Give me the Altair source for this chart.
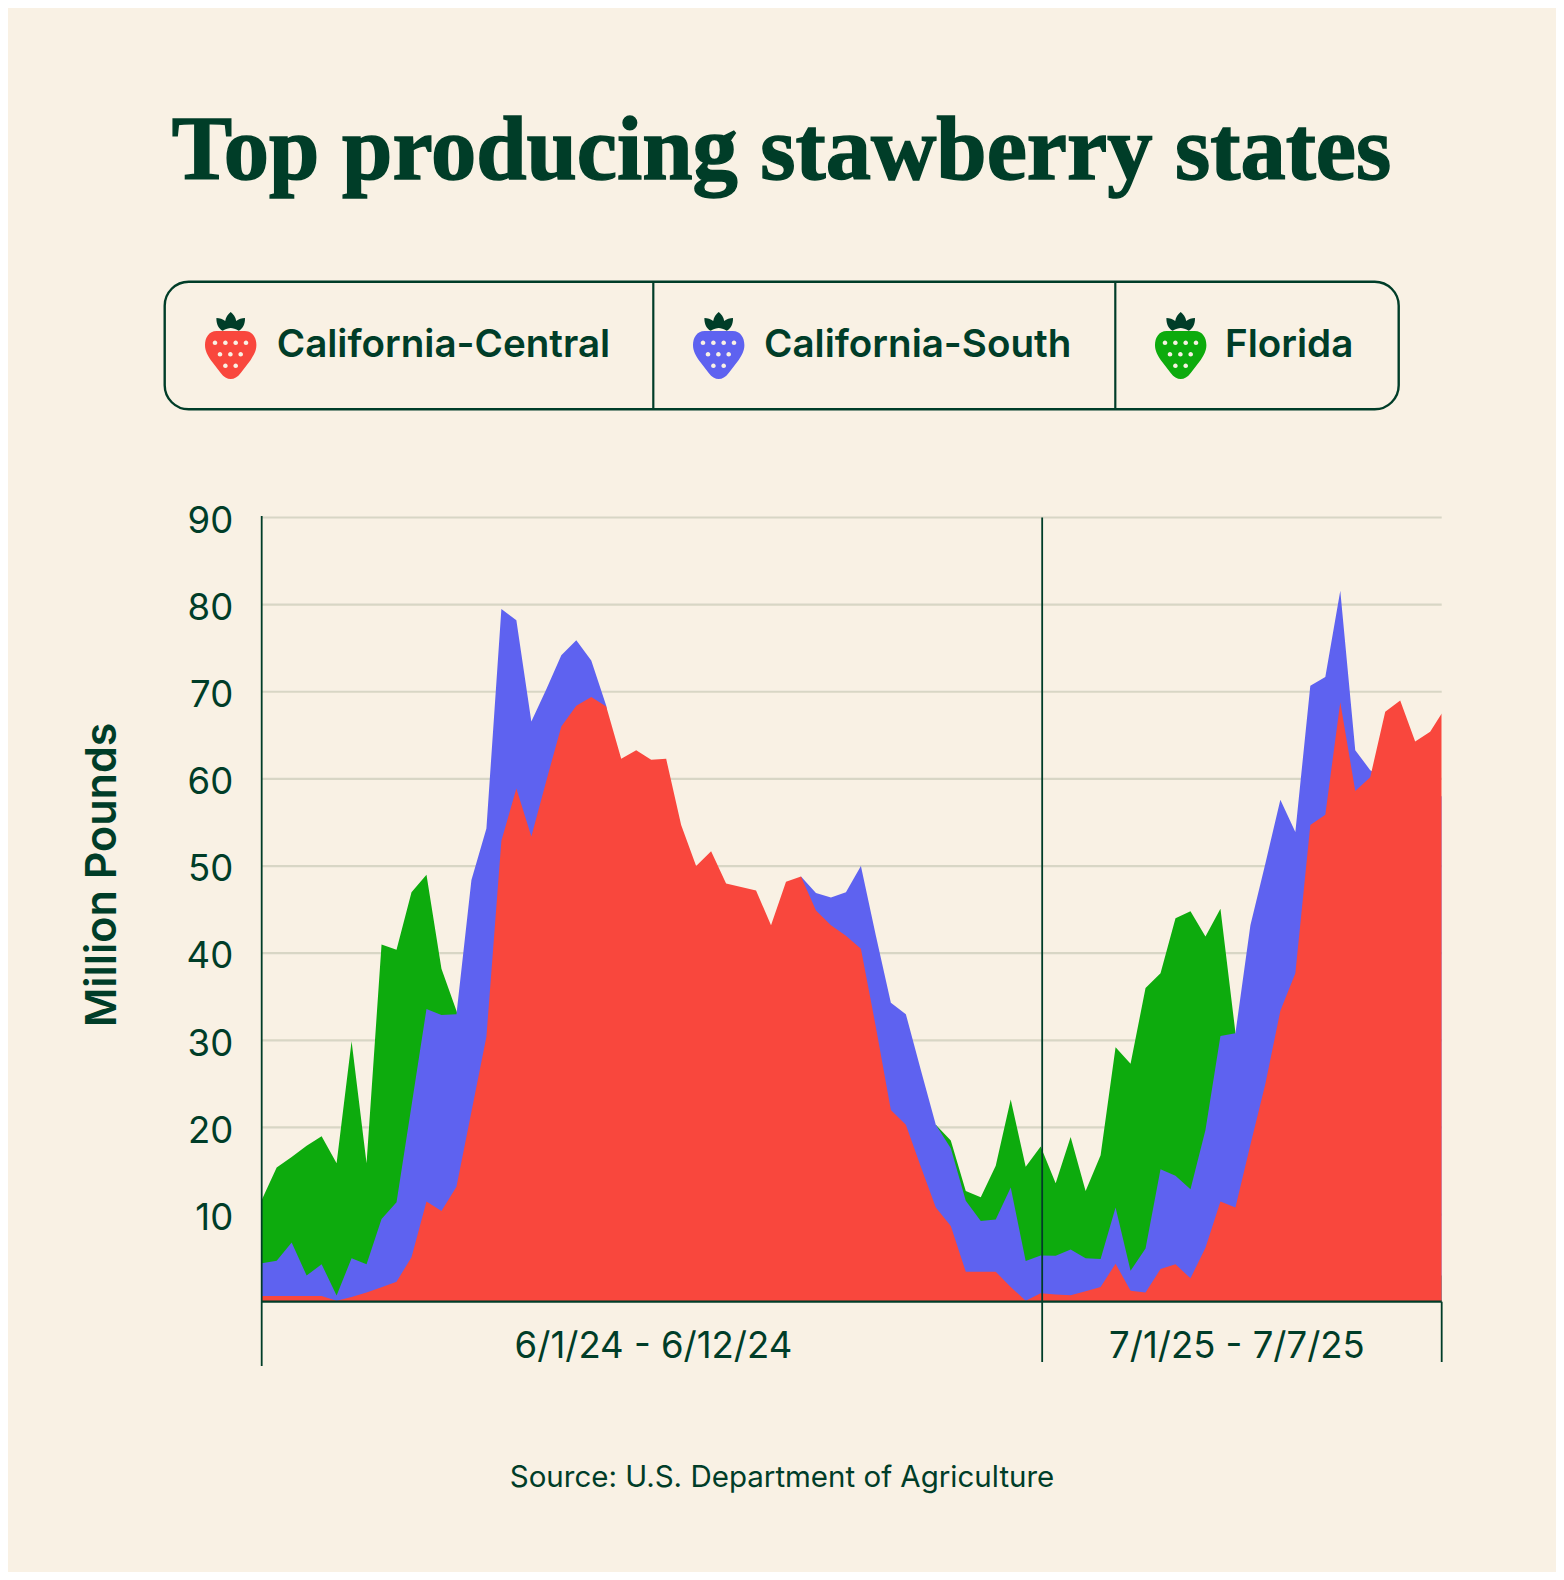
import altair as alt
import pandas as pd

# ---------- data ----------
TITLE = "Top producing stawberry states"
SOURCE = "Source: U.S. Department of Agriculture"
Y_TITLE = "Million Pounds"
SERIES = ["California-Central", "California-South", "Florida"]
PERIODS = ["6/1/24 - 6/12/24", "7/1/25 - 7/7/25"]
PERIOD_CENTRES = [26.15, 65.1]
PERIOD_EDGES = [0, 52.1, 78.77]
Y_TICKS = [10, 20, 30, 40, 50, 60, 70, 80, 90]

idx = list(range(79)) + [78.77]

central = [0.65, 0.65, 0.65, 0.65, 0.65, 0.1, 0.55, 1.07, 1.65, 2.3,
           5.1, 11.5, 10.4, 13.2, 21.8, 30.4, 52.9, 58.9, 53.4, 59.8,
           66.0, 68.4, 69.4, 68.3, 62.3, 63.3, 62.2, 62.3, 54.7, 50.0,
           51.7, 48.0, 47.6, 47.2, 43.2, 48.2, 48.8, 44.9, 43.2, 42.0,
           40.5, 31.5, 22.0, 20.3, 15.5, 10.8, 8.7, 3.44, 3.44, 3.44,
           1.7, 0.1, 0.96, 0.84, 0.73, 1.2, 1.7, 4.36, 1.26, 1.07,
           3.75, 4.3, 2.68, 6.2, 11.5, 10.8, 18.0, 25.0, 33.4, 37.7,
           54.7, 55.9, 68.8, 58.6, 60.2, 67.7, 69.0, 64.3, 65.4, 67.5]

south = [4.4, 4.7, 6.8, 3.0, 4.3, 0.7, 5.0, 4.3, 9.5, 11.4,
         22.5, 33.6, 32.9, 33.0, 48.4, 54.3, 79.5, 78.2, 66.6, 70.3,
         74.2, 75.9, 73.6, 68.4, 55.0, 50.0, 45.0, 42.0, 40.0, 40.0,
         40.0, 41.0, 41.0, 42.0, 42.0, 44.0, 48.8, 46.9, 46.4, 47.0,
         50.0, 42.0, 34.3, 33.0, 26.6, 20.3, 17.6, 11.6, 9.25, 9.44,
         13.1, 4.66, 5.3, 5.28, 6.0, 5.0, 4.9, 10.8, 3.55, 6.1,
         15.2, 14.45, 12.9, 19.7, 30.5, 30.8, 43.2, 50.3, 57.6, 53.9,
         70.7, 71.7, 81.6, 63.3, 61.0, 60.0, 60.0, 58.0, 58.0, 58.0]

florida = [11.66, 15.4, 16.6, 17.9, 19.0, 15.9, 29.9, 15.9, 41.0, 40.4,
           47.0, 49.0, 38.2, 33.4, 28.0, 24.0, 20.0, 18.0, 16.0, 14.0,
           12.0, 11.0, 10.0, 9.0, 8.0, 8.0, 7.0, 7.0, 6.0, 6.0,
           6.0, 5.0, 5.0, 5.0, 5.0, 6.0, 6.0, 7.0, 8.0, 9.0,
           10.0, 12.0, 14.0, 16.0, 19.0, 20.3, 18.5, 12.7, 12.0, 15.6,
           23.2, 15.5, 17.8, 13.6, 18.9, 12.7, 16.8, 29.2, 27.3, 36.0,
           37.7, 44.0, 44.8, 41.9, 45.1, 30.9, 20.0, 15.0, 12.0, 10.0,
           8.0, 6.0, 5.0, 5.0, 4.0, 4.0, 4.0, 4.0, 3.0, 3.0]

# ---------- style ----------
BG = "#f9f1e4"
INK = "#003d28"
GRID = "#d8d6c5"
COLORS = ["#f9473d", "#5e62f0", "#0dab0d"]
FONT = "Inter"

# ---------- layout (page pixels) ----------
LEFT, TOP, PLOT_W, PLOT_H = 261.7, 517.5, 1180.0, 784.2
CANVAS_W, CANVAS_H = 1548, 1564


def px(x):
    return x - LEFT


def py(y):
    return y - TOP


X_SCALE = alt.Scale(domain=[0, 78.77], nice=False, zero=False)
X = alt.X("i:Q", scale=X_SCALE, axis=None)
Y_SCALE = alt.Scale(domain=[0, 90], nice=False)
Y_AXIS = alt.Axis(
    values=Y_TICKS,
    title=None,
    grid=False,
    ticks=False,
    domain=False,
    labelFont=FONT,
    labelFontSize=36.5,
    labelColor=INK,
    labelPadding=29,
    labelBaseline="middle",
    labelOffset=3.7,
)
Y = alt.Y("v:Q", scale=Y_SCALE, axis=Y_AXIS)


def area(values, color):
    df = pd.DataFrame({"i": idx, "v": values})
    return alt.Chart(df).mark_area(color=color, interpolate="linear", clip=True).encode(
        x=X, y=Y, y2=alt.datum(0)
    )


def text(s, x, y, size, align="left", weight=400, font=FONT, angle=None, **kw):
    opts = dict(align=align, baseline="alphabetic", fontSize=size, fontWeight=weight, font=font, color=INK, **kw)
    if angle is not None:
        opts["angle"] = angle
    return alt.Chart(pd.DataFrame({"t": [s]})).mark_text(**opts).encode(
        x=alt.value(px(x)), y=alt.value(py(y)), text="t:N"
    )


grid = alt.Chart(pd.DataFrame({"v": Y_TICKS})).mark_rule(color=GRID, strokeWidth=2.2).encode(
    y=Y, x=alt.value(0), x2=alt.value(PLOT_W)
)

baseline = alt.Chart(pd.DataFrame({"i": [0, 78.77], "v": [0, 0]})).mark_line(color=INK, strokeWidth=2.2).encode(
    x=X, y=Y
)


def edge(i, top, bottom):
    return alt.Chart(pd.DataFrame({"i": [i]})).mark_rule(color=INK, strokeWidth=1.8).encode(
        x=X, y=alt.value(py(top)), y2=alt.value(py(bottom))
    )


edge_rules = [
    edge(PERIOD_EDGES[0], 516, 1366),
    edge(PERIOD_EDGES[1], 517.5, 1362),
    edge(PERIOD_EDGES[2], 1301.7, 1362),
]

period_labels = alt.Chart(pd.DataFrame({"i": PERIOD_CENTRES, "t": PERIODS})).mark_text(
    font=FONT, fontSize=36.5, color=INK, baseline="alphabetic", align="center"
).encode(x=X, y=alt.value(py(1358)), text="t:N")

# legend box
LEG_L, LEG_R, LEG_T, LEG_B = 164.7, 1398.7, 281.7, 409.3
legend_box = alt.Chart(pd.DataFrame({"a": [0]})).mark_rect(
    fill=None, stroke=INK, strokeWidth=2.4, cornerRadius=24
).encode(
    x=alt.value(px(LEG_L)), x2=alt.value(px(LEG_R)), y=alt.value(py(LEG_T)), y2=alt.value(py(LEG_B))
)
DIVIDERS = [653.3, 1115.3]
legend_dividers = [
    alt.Chart(pd.DataFrame({"a": [0]})).mark_rule(color=INK, strokeWidth=2.2).encode(
        x=alt.value(px(d)), y=alt.value(py(LEG_T)), y2=alt.value(py(LEG_B))
    )
    for d in DIVIDERS
]

BODY = ("M-14,-24 L14,-24 C22,-24 25.7,-17 25.7,-10 C25.7,-4 23,0 20,5 L10,18 C7,22 3.5,24 0,24 "
        "C-3.5,24 -7,22 -10,18 L-20,5 C-23,0 -25.7,-4 -25.7,-10 C-25.7,-17 -22,-24 -14,-24 Z")
LEAF = ("M0,-43 C2.5,-41 5,-38 5.5,-34 C8,-36 11,-37 14.3,-37 C14.5,-31 12,-26 8,-24.3 "
        "C5,-26 2,-27 0,-27 C-2,-27 -5,-26 -8,-24.3 C-12,-26 -14.5,-31 -14.3,-37 "
        "C-11,-37 -8,-36 -5.5,-34 C-5,-38 -2.5,-41 0,-43 Z")
DOT_XY = [(-15.7, -12.3), (-5.3, -12.3), (5, -12.3), (15.3, -12.3),
          (-10.7, -0.7), (-0.3, -0.7), (10, -0.7), (-5.3, 10.7), (5, 10.7)]
r = 2.3
DOTS = " ".join(
    f"M{x - r},{y} a{r},{r} 0 1,0 {2 * r},0 a{r},{r} 0 1,0 {-2 * r},0 Z" for x, y in DOT_XY
)


def berry(x, y, color):
    df = pd.DataFrame({"a": [0]})
    pos = dict(x=alt.value(px(x)), y=alt.value(py(y)))
    return [
        alt.Chart(df).mark_point(shape=s, size=4, filled=True, fill=c, opacity=1, strokeWidth=0).encode(**pos)
        for s, c in [(BODY, color), (LEAF, INK), (DOTS, BG)]
    ]


BERRY_X = [230.7, 718.7, 1180.7]
LABEL_X = [276.7, 764.0, 1225.0]
berries = []
labels = []
for name, c, bx, lx in zip(SERIES, COLORS, BERRY_X, LABEL_X):
    berries += berry(bx, 355, c)
    labels.append(text(name, lx, 357.3, 38.6, weight=600))

title = text(TITLE, 781.5, 179, 90.5, align="center", weight=700, font="Liberation Serif", stroke=INK, strokeWidth=1.5)
source = text(SOURCE, 782, 1487, 29.5, align="center")
ytitle = text(Y_TITLE, 116, 875, 43, align="center", weight=600, angle=270)

chart = alt.layer(
    grid,
    area(florida, COLORS[2]),
    area(south, COLORS[1]),
    area(central, COLORS[0]),
    baseline,
    *edge_rules,
    period_labels,
    legend_box,
    *legend_dividers,
    *berries,
    *labels,
    title,
    source,
    ytitle,
).resolve_scale(x="shared", y="shared").properties(
    width=PLOT_W,
    height=PLOT_H,
    background=BG,
    autosize="none",
    padding={
        "left": LEFT - 8,
        "top": TOP - 8,
        "right": CANVAS_W - (LEFT - 8) - PLOT_W,
        "bottom": CANVAS_H - (TOP - 8) - PLOT_H,
    },
).configure_view(stroke=None)

chart.save("out.html", embed_options={"renderer": "svg", "actions": False})
